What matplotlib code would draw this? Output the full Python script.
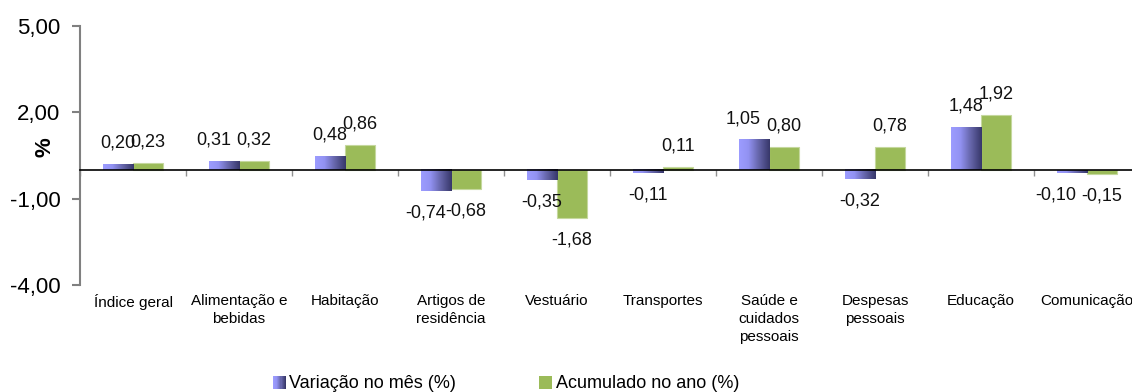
import matplotlib
matplotlib.use("Agg")
import matplotlib.pyplot as plt
import numpy as np
from matplotlib.colors import LinearSegmentedColormap
from matplotlib.legend_handler import HandlerBase
from matplotlib.patches import Rectangle
from matplotlib.ticker import FuncFormatter
import matplotlib.transforms as mtransforms

plt.rcParams['font.family'] = ['Liberation Sans', 'DejaVu Sans']

categorias = ["Índice geral", "Alimentação e\nbebidas", "Habitação", "Artigos de\nresidência",
              "Vestuário", "Transportes", "Saúde e\ncuidados\npessoais", "Despesas\npessoais",
              "Educação", "Comunicação"]
variacao_mes = [0.20, 0.31, 0.48, -0.74, -0.35, -0.11, 1.05, -0.32, 1.48, -0.10]
acumulado_ano = [0.23, 0.32, 0.86, -0.68, -1.68, 0.11, 0.80, 0.78, 1.92, -0.15]
serie_nomes = ["Variação no mês (%)", "Acumulado no ano (%)"]
y_ticks = [-4, -1, 2, 5]

# rotulos da primeira serie que foram empurrados para a esquerda no original (pixels)
desloc_rotulo = {1: -10, 3: -10, 6: -11, 9: -16}

grad_cmap = LinearSegmentedColormap.from_list(
    "roxo", [(0, "#9c9cff"), (0.3, "#9292f2"), (0.65, "#6464a8"), (1, "#37376a")])
verde = "#9bbb59"


def virgula(v, pos=None):
    return f"{v:.2f}".replace(".", ",")


fig = plt.figure(figsize=(11.32, 3.92), dpi=100)
ax = fig.add_axes([80 / 1132, 1 - 285 / 392, 1060 / 1132, 259 / 392])

x = np.arange(len(categorias))
w = 0.285
b1 = ax.bar(x - w / 2, variacao_mes, w, color="none", edgecolor="none", zorder=2)
b2 = ax.bar(x + w / 2, acumulado_ano, w, color=verde, edgecolor="#c5d89e", linewidth=0.8, zorder=2)

grad = np.linspace(0, 1, 64).reshape(1, -1)
for p in b1.patches:
    x0, y0 = p.get_x(), p.get_y()
    ax.imshow(grad, cmap=grad_cmap, extent=[x0, x0 + p.get_width(), y0, y0 + p.get_height()],
              aspect="auto", zorder=2, interpolation="bilinear")

for s, (bars, vals) in enumerate(((b1, variacao_mes), (b2, acumulado_ano))):
    for i, (p, v) in enumerate(zip(bars.patches, vals)):
        cx = p.get_x() + p.get_width() / 2
        off = 21 if v >= 0 else -22
        dx = desloc_rotulo.get(i, 0) if s == 0 else 0
        ax.annotate(virgula(v), (cx, v), xytext=(dx, off), textcoords="offset pixels",
                    ha="center", va="center", fontsize=13, color="#111111")

ax.set_xlim(-0.5, len(categorias) - 0.5)
ax.set_ylim(-4, 5)
ax.set_yticks(y_ticks)
ax.yaxis.set_major_formatter(FuncFormatter(virgula))
ax.tick_params(axis="y", labelsize=16, length=6, width=1.5, color="#808080", direction="out", pad=8)

ax.spines["top"].set_visible(False)
ax.spines["right"].set_visible(False)
ax.spines["left"].set_color("#808080")
ax.spines["left"].set_linewidth(1.5)
ax.spines["bottom"].set_position(("data", 0))
ax.spines["bottom"].set_color("black")
ax.spines["bottom"].set_linewidth(1.2)
ax.spines["bottom"].set_zorder(3)

ax.set_xticks(np.arange(len(categorias) + 1) - 0.5)
ax.set_xticklabels([])
ax.tick_params(axis="x", length=4, width=1, color="#909090", direction="out")

trans = mtransforms.blended_transform_factory(ax.transData, ax.transAxes)
for i, c in enumerate(categorias):
    ax.text(i, -0.035, c, transform=trans, ha="center", va="top", fontsize=11,
            linespacing=1.38, clip_on=False)

ax.set_ylabel("%", fontsize=16, fontweight="bold")
ax.yaxis.set_label_coords(-0.023, 0.533)


class GradHandler(HandlerBase):
    def create_artists(self, legend, orig_handle, xdescent, ydescent, width, height, fontsize, trans):
        n = 12
        artists = []
        side = height * 1.0
        x0 = -xdescent + width - side
        y0 = -ydescent + (height - side) / 2
        for k in range(n):
            r = Rectangle((x0 + side * k / n, y0), side / n + 0.3, side,
                          facecolor=grad_cmap(k / (n - 1)), edgecolor="none", transform=trans)
            artists.append(r)
        return artists


class SquareHandler(HandlerBase):
    def create_artists(self, legend, orig_handle, xdescent, ydescent, width, height, fontsize, trans):
        side = height * 1.0
        r = Rectangle((-xdescent + width - side, -ydescent + (height - side) / 2), side, side,
                      facecolor=verde, edgecolor="none", transform=trans)
        return [r]


h1 = Rectangle((0, 0), 1, 1)
h2 = Rectangle((0, 0), 1, 1)
fig.legend([h1, h2], serie_nomes, loc="center", bbox_to_anchor=(0.447, 8 / 392),
           ncol=2, frameon=False, fontsize=13, handlelength=0.7, handletextpad=0.2,
           columnspacing=4.6, handler_map={h1: GradHandler(), h2: SquareHandler()})

fig.savefig("out.png", dpi=100)
